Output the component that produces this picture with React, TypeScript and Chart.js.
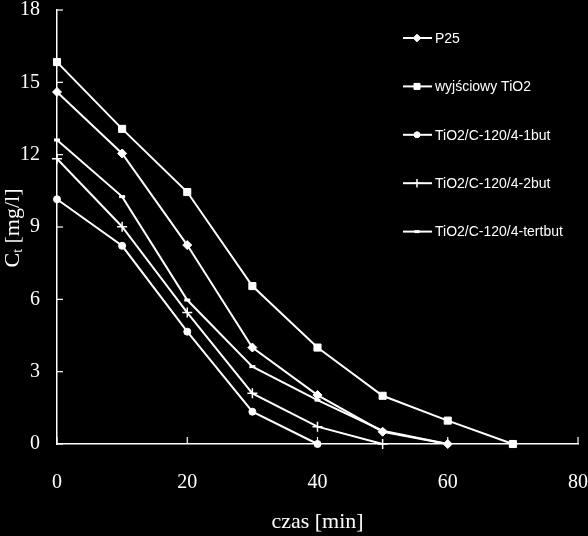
import React, { useEffect, useRef } from 'react';
import { Chart, registerables } from 'chart.js';
import { drawPoint } from 'chart.js/helpers';

Chart.register(...registerables);

const timeMin = [0, 10, 20, 30, 40, 50, 60, 70];
const p25 = [14.6, 12.05, 8.25, 4.0, 2.03, 0.51, 0];
const tio2Base = [15.84, 13.07, 10.45, 6.55, 4.0, 2.0, 0.97, 0];
const but1 = [10.15, 8.22, 4.66, 1.34, 0];
const but2 = [11.83, 9.01, 5.45, 2.1, 0.72, 0];
const tertbut = [12.61, 10.26, 5.97, 3.21, 1.82, 0.55, 0];

const seriesLabels = ['P25', 'wyjściowy TiO2', 'TiO2/C-120/4-1but', 'TiO2/C-120/4-2but', 'TiO2/C-120/4-tertbut'];
const seriesValues = [p25, tio2Base, but1, but2, tertbut];
const pointStyles = ['rectRot', 'rect', 'circle', 'cross', 'line'];
const pointRadii = [4.5, 5, 3.5, 5, 3];
const pointBorders = [1, 1, 1, 1.5, 3];

const xTickValues = [0, 20, 40, 60, 80];
const yTickValues = [0, 3, 6, 9, 12, 15, 18];
const xTitle = 'czas [min]';
const yTitleMain = 'C';
const yTitleSub = 't';
const yTitleRest = ' [mg/l]';

const SERIF = "'Liberation Serif', 'Times New Roman', serif";
const SANS = "'Liberation Sans Narrow', 'Liberation Sans', Arial, sans-serif";

const decorPlugin = {
  id: 'decor',
  afterDraw(chart: any) {
    const ctx = chart.ctx;
    const xs = chart.scales.x;
    const ys = chart.scales.y;
    const area = chart.chartArea;
    ctx.save();
    ctx.strokeStyle = '#ffffff';
    ctx.lineWidth = 1.2;
    xTickValues.forEach((v) => {
      const px = xs.getPixelForValue(v);
      ctx.beginPath();
      ctx.moveTo(px, area.bottom);
      ctx.lineTo(px, area.bottom - 7);
      ctx.stroke();
    });
    yTickValues.forEach((v) => {
      const py = ys.getPixelForValue(v);
      ctx.beginPath();
      ctx.moveTo(area.left, py);
      ctx.lineTo(area.left + 6, py);
      ctx.stroke();
    });

    ctx.fillStyle = '#ffffff';
    ctx.font = `22px ${SERIF}`;
    ctx.textAlign = 'center';
    ctx.textBaseline = 'middle';
    ctx.fillText(xTitle, (area.left + area.right) / 2, 522);

    ctx.save();
    ctx.translate(13, 228);
    ctx.rotate(-Math.PI / 2);
    ctx.textBaseline = 'middle';
    ctx.textAlign = 'left';
    ctx.font = `22px ${SERIF}`;
    const wMain = ctx.measureText(yTitleMain).width;
    ctx.font = `14px ${SERIF}`;
    const wSub = ctx.measureText(yTitleSub).width;
    ctx.font = `22px ${SERIF}`;
    const wRest = ctx.measureText(yTitleRest).width;
    const total = wMain + wSub + wRest;
    let x0 = -total / 2;
    ctx.fillText(yTitleMain, x0, 0);
    x0 += wMain;
    ctx.font = `14px ${SERIF}`;
    ctx.fillText(yTitleSub, x0, 5);
    x0 += wSub;
    ctx.font = `22px ${SERIF}`;
    ctx.fillText(yTitleRest, x0, 0);
    ctx.restore();

    ctx.font = `14px ${SANS}`;
    ctx.textAlign = 'left';
    ctx.textBaseline = 'middle';
    chart.data.datasets.forEach((ds: any, i: number) => {
      const y = 38 + i * 48.4;
      ctx.strokeStyle = '#ffffff';
      ctx.lineWidth = 2;
      ctx.beginPath();
      ctx.moveTo(403, y);
      ctx.lineTo(432, y);
      ctx.stroke();
      ctx.fillStyle = '#ffffff';
      ctx.lineWidth = ds.pointBorderWidth;
      drawPoint(ctx, { pointStyle: ds.pointStyle, radius: ds.pointRadius * 0.85, rotation: 0, borderWidth: ds.pointBorderWidth }, 417, y);
      ctx.fillStyle = '#ffffff';
      ctx.fillText(ds.label, 435, y + 1);
    });
    ctx.restore();
  },
};

export default function App() {
  const ref = useRef<HTMLCanvasElement | null>(null);
  useEffect(() => {
    if (!ref.current) return;
    const datasets = seriesLabels.map((label, i) => ({
      label,
      data: seriesValues[i].map((v, j) => ({ x: timeMin[j], y: v })),
      borderColor: '#ffffff',
      backgroundColor: '#ffffff',
      borderWidth: 2,
      pointStyle: pointStyles[i],
      pointRadius: pointRadii[i],
      pointBackgroundColor: '#ffffff',
      pointBorderColor: '#ffffff',
      pointBorderWidth: pointBorders[i],
      tension: 0,
      clip: false as any,
    }));
    const chart = new Chart(ref.current, {
      type: 'line',
      data: { datasets } as any,
      options: {
        animation: false,
        responsive: false,
        layout: { padding: { top: 10, right: 10, left: 0, bottom: 0 } },
        plugins: { legend: { display: false }, tooltip: { enabled: false } },
        scales: {
          x: {
            type: 'linear',
            min: 0,
            max: 80,
            afterFit: (s: any) => { s.height = 92; s.paddingLeft = 0; s.paddingRight = 0; },
            afterBuildTicks: (s: any) => { s.ticks = xTickValues.map((v) => ({ value: v })); },
            ticks: { color: '#ffffff', font: { family: SERIF, size: 20 }, padding: 27, maxRotation: 0 },
            grid: { display: true, drawOnChartArea: false, drawTicks: false, color: '#ffffff' },
            border: { display: true, color: '#ffffff', width: 1.5 },
          },
          y: {
            type: 'linear',
            min: 0,
            max: 18,
            afterFit: (s: any) => { s.width = 57; s.paddingTop = 0; s.paddingBottom = 0; },
            afterBuildTicks: (s: any) => { s.ticks = yTickValues.map((v) => ({ value: v })); },
            ticks: { color: '#ffffff', font: { family: SERIF, size: 20 }, padding: 17 },
            grid: { display: true, drawOnChartArea: false, drawTicks: false, color: '#ffffff' },
            border: { display: true, color: '#ffffff', width: 1.5 },
          },
        },
      },
      plugins: [decorPlugin],
    });
    return () => chart.destroy();
  }, []);
  return (
    <div style={{ position: 'fixed', left: 0, top: 0, width: 588, height: 536, background: '#000000' }}>
      <canvas ref={ref} width={588} height={536} style={{ display: 'block', width: 588, height: 536 }} />
    </div>
  );
}
